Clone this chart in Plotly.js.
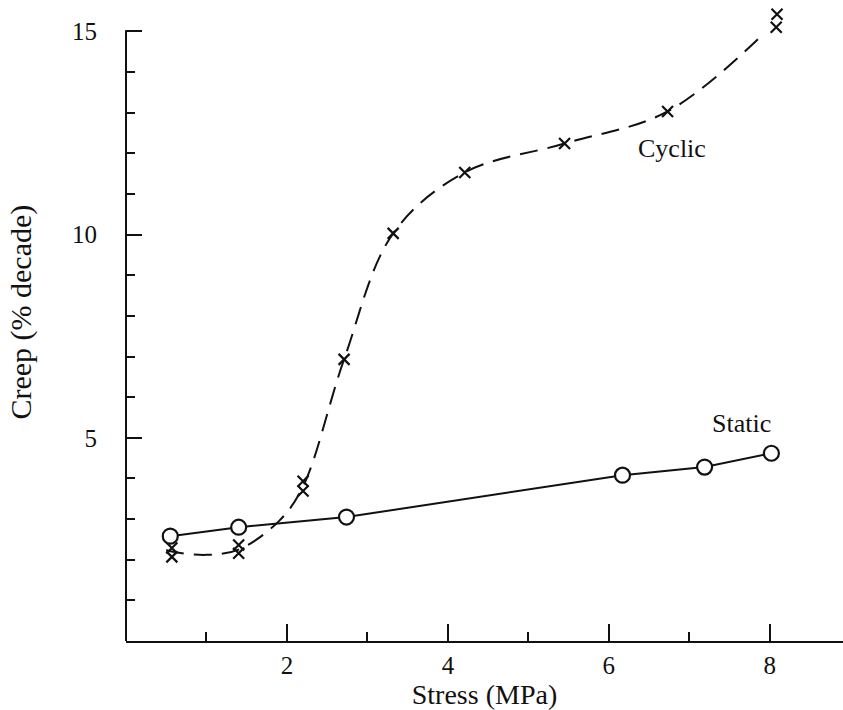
<!DOCTYPE html>
<html>
<head>
<meta charset="utf-8">
<script src="https://cdn.plot.ly/plotly-3.0.1.min.js"></script>
<style>html,body{margin:0;padding:0;background:#fff;}#chart{width:843px;height:710px;}</style>
</head>
<body>
<div id="chart"></div>
<script>
// Static series (open circles, solid line)
var staticX = [0.55, 1.40, 2.74, 6.17, 7.19, 8.02];
var staticY = [2.58, 2.80, 3.05, 4.08, 4.28, 4.62];

// Cyclic series (crosses)
var cyclicX = [0.57, 0.57, 1.40, 1.40, 2.20, 2.20, 2.71, 3.32, 4.21, 5.45, 6.73, 8.09, 8.08];
var cyclicY = [2.29, 2.07, 2.36, 2.16, 3.93, 3.69, 6.93, 10.03, 11.53, 12.24, 13.03, 15.42, 15.10];

// Cyclic fitted curve (dashed)
var curveX = [0.50, 0.57, 1.00, 1.40, 1.90, 2.20, 2.71, 3.32, 4.21, 5.45, 6.73, 7.94];
var curveY = [2.24, 2.20, 2.12, 2.25, 2.95, 3.80, 6.93, 10.03, 11.53, 12.24, 13.03, 14.97];

var xTickVals = [2, 4, 6, 8];
var xTickText = ['2', '4', '6', '8'];
var yTickVals = [5, 10, 15];
var yTickText = ['5', '10', '15'];

var labelNames = ['Cyclic', 'Static'];
var labelX = [6.78, 7.65];
var labelY = [12.12, 5.36];

var xTitle = 'Stress (MPa)';
var yTitle = 'Creep (% decade)';

var serif = 'Liberation Serif, Times New Roman, serif';

var traces = [
  {
    x: curveX, y: curveY, mode: 'lines', type: 'scatter',
    line: {shape: 'spline', smoothing: 1.0, color: '#111', width: 2, dash: '18px,10px'},
    hoverinfo: 'skip', showlegend: false
  },
  {
    x: cyclicX, y: cyclicY, mode: 'markers', type: 'scatter', name: 'Cyclic',
    marker: {symbol: 'x-thin', size: 11, color: '#111', line: {color: '#111', width: 2.2}},
    showlegend: false
  },
  {
    x: staticX, y: staticY, mode: 'lines+markers', type: 'scatter', name: 'Static',
    line: {color: '#111', width: 2},
    marker: {symbol: 'circle', size: 15, color: '#fff', line: {color: '#111', width: 2.2}},
    showlegend: false
  }
];

var annotations = labelNames.map(function (t, i) {
  return {x: labelX[i], y: labelY[i], xref: 'x', yref: 'y', text: t, showarrow: false,
          font: {family: serif, size: 26, color: '#111'}};
});
annotations.push({
  x: -0.147, y: 0.519, xref: 'paper', yref: 'paper', text: yTitle, textangle: -90,
  showarrow: false, xanchor: 'center', yanchor: 'middle',
  font: {family: serif, size: 30, color: '#111'}
});

var layout = {
  width: 843, height: 710,
  margin: {l: 126, r: 0, t: 7, b: 69},
  paper_bgcolor: '#fff', plot_bgcolor: '#fff',
  showlegend: false,
  font: {family: serif, color: '#111', size: 24},
  xaxis: {
    range: [0, 8.91], showgrid: false, zeroline: false,
    showline: true, linecolor: '#111', linewidth: 2,
    tickmode: 'array', tickvals: xTickVals, ticktext: xTickText,
    ticks: 'inside', ticklen: 17, tickwidth: 2, tickcolor: '#111',
    minor: {dtick: 1, tick0: 0, ticks: 'inside', ticklen: 9, tickwidth: 2, tickcolor: '#111', showgrid: false},
    tickfont: {family: serif, size: 25, color: '#111'},
    ticklabelstandoff: 1,
    title: {text: xTitle, font: {family: serif, size: 28, color: '#111'}, standoff: 6}
  },
  yaxis: {
    range: [0, 15.6], showgrid: false, zeroline: false,
    showline: false,
    tickmode: 'array', tickvals: yTickVals, ticktext: yTickText,
    ticks: 'inside', ticklen: 16, tickwidth: 2, tickcolor: '#111',
    minor: {dtick: 1, tick0: 0, ticks: 'inside', ticklen: 9, tickwidth: 2, tickcolor: '#111', showgrid: false},
    tickfont: {family: serif, size: 25, color: '#111'},
    ticklabelstandoff: 28
  },
  shapes: [
    {type: 'line', xref: 'paper', yref: 'y', x0: 0, x1: 0, y0: 0, y1: 15.03,
     line: {color: '#111', width: 2}}
  ],
  annotations: annotations
};

Plotly.newPlot('chart', traces, layout, {displayModeBar: false, staticPlot: true});
</script>
</body>
</html>
